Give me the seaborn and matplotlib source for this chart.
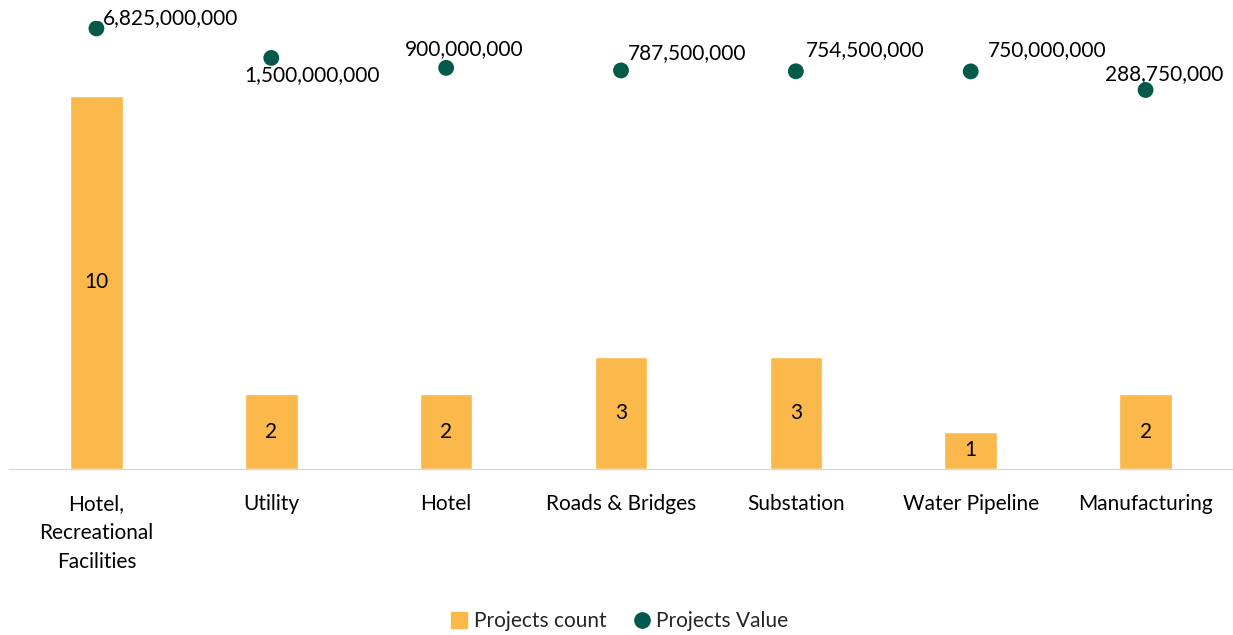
import numpy as np
import pandas as pd
import matplotlib
matplotlib.use("Agg")
import matplotlib.pyplot as plt
import seaborn as sns
from matplotlib.lines import Line2D

categories = ["Hotel,\nRecreational\nFacilities", "Utility", "Hotel", "Roads & Bridges",
              "Substation", "Water Pipeline", "Manufacturing"]
project_counts = [10, 2, 2, 3, 3, 1, 2]
project_values = [6825000000, 1500000000, 900000000, 787500000, 754500000, 750000000, 288750000]

bar_color = "#FBB84B"
dot_color = "#035A4B"

sns.set_theme(style="white")
plt.rcParams["font.family"] = ["Lato", "DejaVu Sans"]

df = pd.DataFrame({"category": categories, "count": project_counts, "value": project_values})

fig = plt.figure(figsize=(12.33, 6.35), dpi=100)
ax = fig.add_axes([9 / 1233, 166 / 635, 1224 / 1233, 448 / 635])

sns.barplot(data=df, x="category", y="count", color=bar_color, width=0.30,
            saturation=1, ax=ax)
ax.set_ylim(0, 12)
ax.set_xlim(-0.5, len(categories) - 0.5)
ax.bar_label(ax.containers[0], label_type="center", fontsize=15, color="#000000")
ax.set_yticks([])
ax.set_xlabel("")
ax.set_ylabel("")
ax.tick_params(axis="x", length=0, pad=18, labelsize=15, colors="#000000")
for lbl in ax.get_xticklabels():
    lbl.set_linespacing(1.55)
for s in ["top", "right", "left"]:
    ax.spines[s].set_visible(False)
ax.spines["bottom"].set_color("#D9D9D9")
ax.spines["bottom"].set_linewidth(1)

ax2 = ax.twinx()
ax2.set_yscale("log")
ax2.set_ylim(1, 1e10)
sns.scatterplot(data=df, x="category", y="value", color=dot_color, s=130,
                edgecolor="none", ax=ax2, zorder=5)
ax2.set_yticks([])
ax2.minorticks_off()
ax2.set_ylabel("")
for s in ax2.spines.values():
    s.set_visible(False)

# label offsets in pixels from the dot: (left edge dx, vertical centre dy)
label_pos = [(6, 10), (-27, -17), (-41, 19), (7, 17), (10, 21), (17, 21), (-41, 16)]
for i, v in enumerate(project_values):
    dx, dy = label_pos[i]
    ax2.annotate(f"{v:,}", (i, v), xytext=(dx, dy), textcoords="offset pixels",
                 ha="left", va="center", fontsize=15, color="#000000")

handles = [Line2D([], [], marker="s", linestyle="", color=bar_color, markersize=11),
           Line2D([], [], marker="o", linestyle="", color=dot_color, markersize=11)]
fig.legend(handles, ["Projects count", "Projects Value"], loc="center",
           bbox_to_anchor=(0.5, 14 / 635), ncol=2, frameon=False, fontsize=15,
           handletextpad=0.0, columnspacing=1.0, handlelength=1.4)

fig.savefig("out.png", dpi=100)
